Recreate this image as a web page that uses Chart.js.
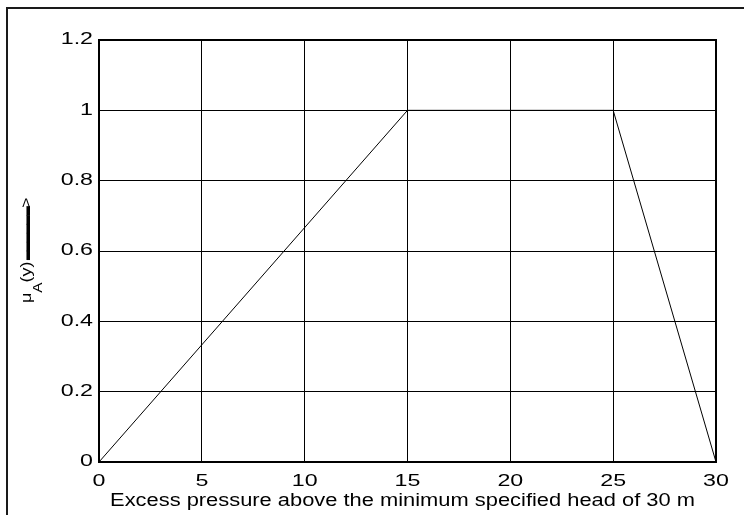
<!DOCTYPE html>
<html>
<head>
<meta charset="utf-8">
<script src="https://cdn.jsdelivr.net/npm/chart.js@4/dist/chart.umd.min.js"></script>
<style>
  html, body { margin: 0; padding: 0; background: #fff; }
  canvas { display: block; }
</style>
</head>
<body>
<canvas id="chart" width="744" height="515"></canvas>
<script>
// Membership function of the excess pressure (trapezoid, 0..30 m)
const pressureExcess = [0, 15, 25, 30];
const membership = [0, 1, 1, 0];

// Axis ticks and labels
const xTickValues = [0, 5, 10, 15, 20, 25, 30];
const xTickLabels = ['0', '5', '10', '15', '20', '25', '30'];
const yTickValues = [0, 0.2, 0.4, 0.6, 0.8, 1, 1.2];
const yTickLabels = ['0', '0.2', '0.4', '0.6', '0.8', '1', '1.2'];

const xTitle = 'Excess pressure above the minimum specified head of 30 m';
const yTitleSymbol = 'μ';
const yTitleSub = 'A';
const yTitleArg = '(y)';
const yTitleArrowShaft = '------';
const yTitleArrowHead = '>';

const FONT = '"Liberation Sans", Arial, Helvetica, sans-serif';

// The figure uses a wide sans face: widen glyphs horizontally per font size.
function widthScaleFor(font) {
  const m = /([\d.]+)px/.exec(font);
  const px = m ? parseFloat(m[1]) : 0;
  if (px === 16) return 1.45;
  if (px === 17.5) return 1.25;
  return 1.28;
}

const canvas = document.getElementById('chart');
const ctx2d = canvas.getContext('2d');
const baseFillText = ctx2d.fillText;
ctx2d.fillText = function (text, x, y, maxWidth) {
  const sx = widthScaleFor(this.font);
  this.save();
  this.translate(x, y);
  this.scale(sx, 1);
  if (maxWidth === undefined || maxWidth === null) {
    baseFillText.call(this, text, 0, 0);
  } else {
    baseFillText.call(this, text, 0, 0, maxWidth / sx);
  }
  this.restore();
};

// Outer figure frame and the axes box
const framePlugin = {
  id: 'frame',
  afterDraw(chart) {
    const { ctx, chartArea: a } = chart;
    ctx.save();
    ctx.strokeStyle = '#1a1a1a';
    ctx.lineWidth = 2;
    ctx.strokeRect(7, 8, 2000, 2000);
    ctx.strokeStyle = '#000';
    ctx.strokeRect(a.left, a.top, a.right - a.left, a.bottom - a.top);
    ctx.restore();
  }
};

// Axis titles: x label under the tick labels, rotated y label with subscript and arrow
const axisTitlesPlugin = {
  id: 'axisTitles',
  afterDraw(chart) {
    const ctx = chart.ctx;
    const a = chart.chartArea;

    ctx.save();
    ctx.fillStyle = '#000';
    ctx.font = '17.5px ' + FONT;
    ctx.textAlign = 'center';
    ctx.textBaseline = 'middle';
    ctx.fillText(xTitle, (a.left + a.right) / 2 - 5, a.bottom + 39.5);
    ctx.restore();

    ctx.save();
    ctx.translate(31, (a.top + a.bottom) / 2 + 52);
    ctx.rotate(-Math.PI / 2);
    ctx.fillStyle = '#000';
    ctx.textAlign = 'left';
    ctx.textBaseline = 'alphabetic';
    let x = 0;
    const put = (text, font, dy, spacing) => {
      ctx.font = font;
      ctx.letterSpacing = spacing || '0px';
      ctx.fillText(text, x, dy);
      x += ctx.measureText(text).width * widthScaleFor(ctx.font);
    };
    put(yTitleSymbol, '14px ' + FONT, 0);
    put(yTitleSub, '12px ' + FONT, 11);
    put(yTitleArg, '14px ' + FONT, 0);
    put(yTitleArrowShaft, 'bold 29px ' + FONT, 4.6, '-2.7px');
    put(yTitleArrowHead, '14px ' + FONT, 0);
    ctx.restore();
  }
};

new Chart(canvas, {
  type: 'line',
  data: {
    datasets: [{
      data: pressureExcess.map((x, i) => ({ x, y: membership[i] })),
      borderColor: '#000',
      borderWidth: 1,
      pointRadius: 0,
      tension: 0,
      fill: false
    }]
  },
  options: {
    responsive: false,
    animation: false,
    devicePixelRatio: 1,
    layout: { padding: { left: 0, top: 40, right: 28, bottom: 0 } },
    plugins: {
      legend: { display: false },
      tooltip: { enabled: false }
    },
    scales: {
      x: {
        type: 'linear',
        position: 'bottom',
        min: 0,
        max: 30,
        afterFit(s) { s.height = 53; },
        afterBuildTicks(s) { s.ticks = xTickValues.map(v => ({ value: v })); },
        ticks: {
          autoSkip: false,
          maxRotation: 0,
          padding: 10,
          color: '#000',
          font: { family: FONT, size: 16 },
          callback(v) { return xTickLabels[xTickValues.indexOf(v)]; }
        },
        grid: { color: '#000', lineWidth: 1, drawTicks: false },
        border: { display: true, color: '#000', width: 1 }
      },
      y: {
        type: 'linear',
        min: 0,
        max: 1.2,
        afterFit(s) { s.width = 99; },
        afterBuildTicks(s) { s.ticks = yTickValues.map(v => ({ value: v })); },
        ticks: {
          autoSkip: false,
          padding: 6,
          color: '#000',
          font: { family: FONT, size: 16 },
          callback(v) { return yTickLabels[yTickValues.indexOf(v)]; }
        },
        grid: { color: '#000', lineWidth: 1, drawTicks: false },
        border: { display: true, color: '#000', width: 1 }
      }
    }
  },
  plugins: [framePlugin, axisTitlesPlugin]
});
</script>
</body>
</html>
